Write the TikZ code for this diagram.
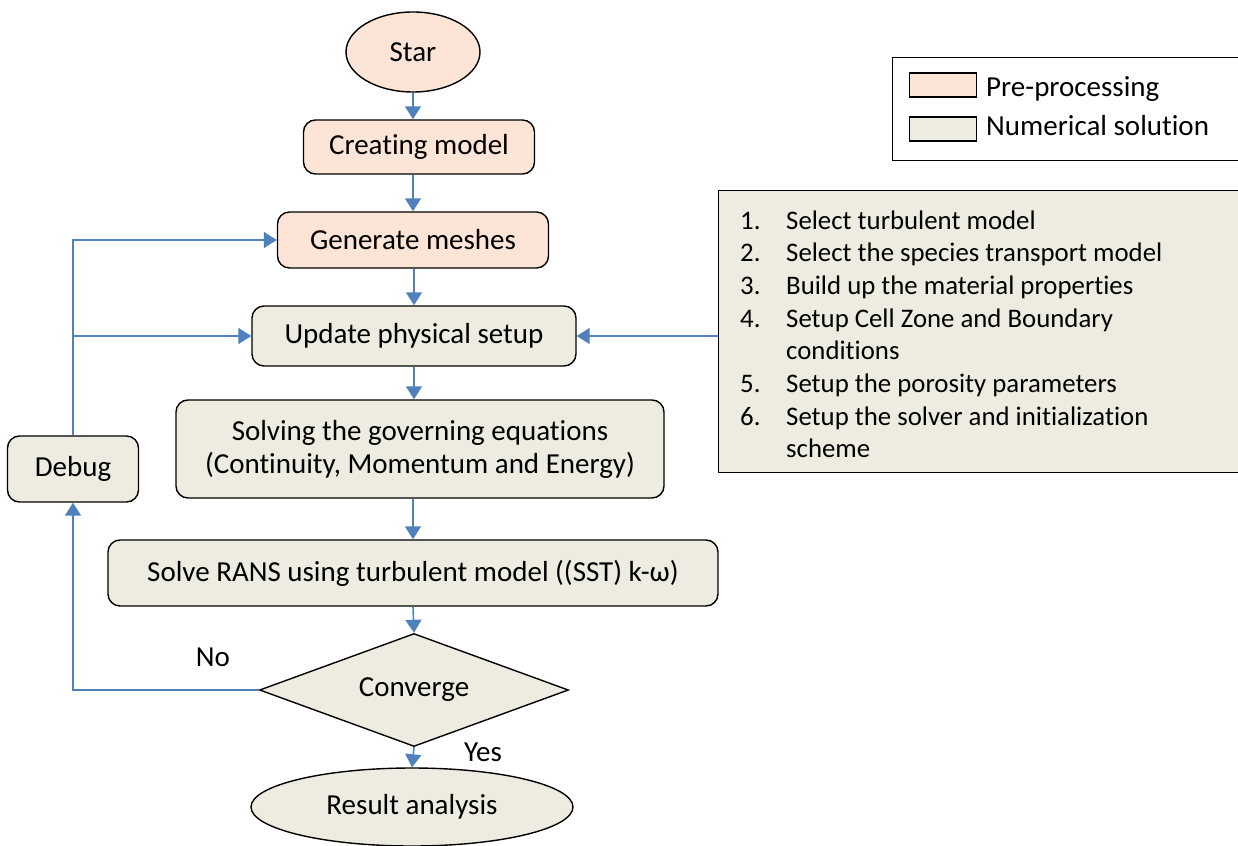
\documentclass[tikz,border=0pt]{standalone}
\usepackage{fontspec}
\setmainfont{Carlito}[Ligatures=NoCommon]
\usetikzlibrary{shapes.geometric,arrows.meta}
\definecolor{prefill}{HTML}{FCE4D6}
\definecolor{numfill}{HTML}{EEECE1}
\definecolor{flowblue}{HTML}{4F81BD}
\begin{document}
\begin{tikzpicture}[x=1pt,y=-1pt,font=\fontsize{29}{33}\selectfont,
    outline/.style={draw, line width=1.4pt, inner sep=0pt, align=center},
    box/.style={outline, rounded corners=12pt},
    pre/.style={box, fill=prefill},
    num/.style={box, fill=numfill},
    flow/.style={draw=flowblue, line width=1.6pt, -{Triangle[width=16pt,length=13pt]}}]
    \useasboundingbox (0,0) rectangle (1238,845);

    % main column
    \node[outline, fill=prefill, ellipse, minimum width=134pt, minimum height=80pt] (star) at (413,52) {Star};
    \node[pre, minimum width=231pt, minimum height=54pt] (create) at (419,147) {Creating model};
    \node[pre, minimum width=271pt, minimum height=56pt] (mesh) at (413,240) {Generate meshes};
    \node[num, minimum width=324pt, minimum height=60pt] (upd) at (414,336) {Update physical setup};
    \node[num, minimum width=488pt, minimum height=98pt] (solve) at (420,449) {Solving the governing equations\\(Continuity, Momentum and Energy)};
    \node[num, minimum width=131pt, minimum height=66pt] (debug) at (73,469) {Debug};
    \node[num, minimum width=610pt, minimum height=66pt] (rans) at (413,573) {Solve RANS using turbulent model ((SST) k-ω)};
    \node[outline, fill=numfill, diamond, shape aspect=2.7, minimum width=309pt, minimum height=113pt] (conv) at (414,690) {Converge};
    \node[outline, fill=numfill, ellipse, minimum width=322pt, minimum height=78pt] (result) at (412,807) {Result analysis};
    \node (no) at (213,657) {No};
    \node (yes) at (483,752) {Yes};

    % legend
    \node[outline, anchor=north west, minimum width=352pt, minimum height=103pt] (legend) at (892,57) {};
    \node[outline, fill=prefill, minimum width=67pt, minimum height=24pt] (preswatch) at (943,85) {};
    \node[outline, fill=numfill, minimum width=67pt, minimum height=24pt] (numswatch) at (943,129) {};
    \node[anchor=base west, inner sep=0pt] (pretext) at (986,97) {Pre-processing};
    \node[anchor=base west, inner sep=0pt] (numtext) at (986,136) {Numerical solution};

    % setup steps
    \node[outline, fill=numfill, anchor=north west, minimum width=526pt, minimum height=282pt] (steps) at (718,190) {};
    \node[anchor=north west, inner sep=0pt, align=left, font=\fontsize{26.8}{32.7}\selectfont] (steplist) at (740,206) {%
      \begin{tabular}{@{}p{46pt}@{}l@{}}
        1. & Select turbulent model\\
        2. & Select the species transport model\\
        3. & Build up the material properties\\
        4. & Setup Cell Zone and Boundary\\
           & conditions\\
        5. & Setup the porosity parameters\\
        6. & Setup the solver and initialization\\
           & scheme
      \end{tabular}};

    % connectors
    \draw[flow] (star.south) -- (star.south |- create.north);
    \draw[flow] (mesh.north |- create.south) -- (mesh.north);
    \draw[flow] (upd.north |- mesh.south) -- (upd.north);
    \draw[flow] (upd.south) -- (upd.south |- solve.north);
    \draw[flow] (rans.north |- solve.south) -- (rans.north);
    \draw[flow] (rans.south) -- (conv.north);
    \draw[flow] (conv.south) -- (result.north);
    \draw[flow] (conv.west) -| (debug.south);
    \draw[flow] (debug.north) |- (mesh.west);
    \draw[flow] (debug.north |- upd.west) -- (upd.west);
    \draw[flow] (steps.west |- upd.east) -- (upd.east);
\end{tikzpicture}
\end{document}
